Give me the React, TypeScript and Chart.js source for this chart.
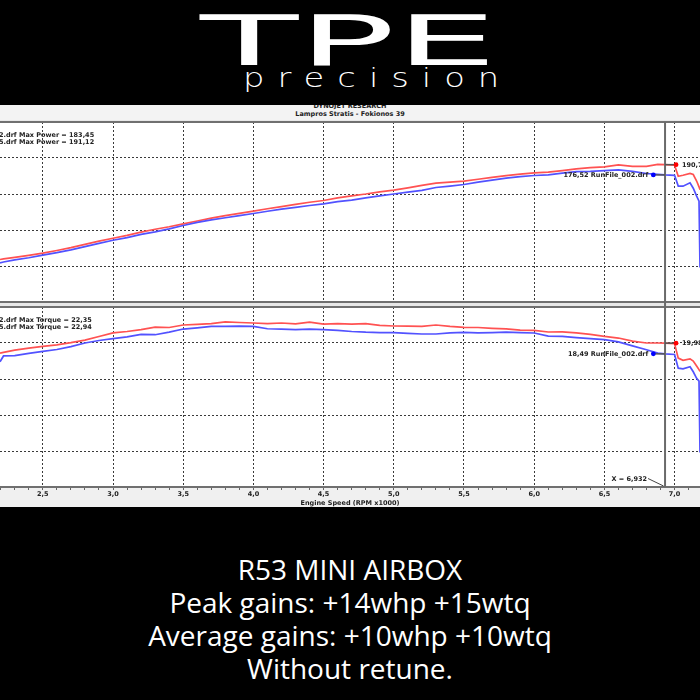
import React, { useEffect, useRef } from 'react';
import { Chart, registerables } from 'chart.js';

Chart.register(...registerables);

// ---------- data (engine speed in RPM x1000) ----------
const rpm = [
  2.195, 2.22, 2.3, 2.4, 2.5, 2.6, 2.7, 2.8, 2.9, 3.0,
  3.1, 3.2, 3.3, 3.4, 3.5, 3.6, 3.7, 3.8, 3.9, 4.0,
  4.1, 4.2, 4.3, 4.4, 4.5, 4.6, 4.7, 4.8, 4.9, 5.0,
  5.1, 5.2, 5.3, 5.4, 5.5, 5.6, 5.7, 5.8, 5.9, 6.0,
  6.1, 6.2, 6.3, 6.4, 6.5, 6.6, 6.7, 6.8, 6.88, 6.932,
  7.0, 7.026, 7.06, 7.11, 7.133, 7.157, 7.174, 7.181,
];

// RunFile_005.drf (red, with airbox)
const powerRun005 = [
  59, 59.8, 62, 64.8, 67.8, 71.5, 75.5, 80, 84.5, 88.5,
  92.5, 97, 101, 104.5, 108.5, 112.5, 116.5, 120, 123, 126.2,
  129.5, 132.5, 135.5, 138.5, 141, 144.5, 147.5, 150, 153, 155.3,
  158.5, 162, 165, 166.5, 168, 170.5, 173, 175.5, 177.5, 179.4,
  180.3, 182.5, 185, 186.5, 187.8, 190.5, 188.5, 188.5, 191.12, 190.78,
  190, 174.7, 176, 178.5, 177, 168, 160, 156,
];

// RunFile_002.drf (blue, stock)
const powerRun002 = [
  54.4, 55.5, 58.5, 61.5, 65, 68.5, 72.5, 77, 81.5, 85.8,
  89.5, 94, 97.5, 101.5, 106.2, 110.5, 114, 117, 120, 122.9,
  126, 129, 131.5, 134, 136.4, 139.5, 141.5, 144.5, 147.5, 150,
  152.5, 155, 159, 161, 163.2, 166.5, 169.2, 172, 174, 175.7,
  176.5, 179, 181, 181.5, 182.5, 183.45, 181.5, 178.5, 177.2, 176.52,
  176, 161, 160.8, 165.5, 158, 147, 140, 48,
];

const torqueRun005 = [
  18.6, 18.7, 19.0, 19.3, 19.53, 19.75, 20.05, 20.4, 20.9, 21.4,
  21.6, 21.85, 22.2, 22.15, 22.5, 22.6, 22.7, 22.94, 22.85, 22.78,
  22.68, 22.78, 22.65, 22.9, 22.63, 22.7, 22.63, 22.68, 22.45, 22.36,
  22.35, 22.3, 22.5, 22.3, 22.17, 22.15, 22.03, 21.95, 21.8, 21.75,
  21.53, 21.55, 21.4, 21.2, 20.92, 20.69, 20.25, 20.0, 20.0, 19.98,
  19.9, 17.9, 17.6, 17.8, 17.5, 16.8, 16.3, 16.05,
];

const torqueRun002 = [
  17.4, 18.2, 18.24, 18.55, 18.84, 19.1, 19.5, 20.0, 20.35, 20.6,
  20.85, 21.2, 21.15, 21.5, 21.94, 22.1, 22.3, 22.3, 22.35, 22.3,
  21.98, 21.94, 21.85, 21.94, 21.85, 21.75, 21.6, 21.5, 21.45, 21.43,
  21.35, 21.25, 21.25, 21.4, 21.47, 21.4, 21.43, 21.5, 21.45, 21.39,
  20.95, 20.92, 20.75, 20.6, 20.46, 20.15, 19.6, 19.07, 18.6, 18.49,
  18.4, 16.5, 16.4, 16.7, 16.0, 15.1, 14.7, 4.8,
];

const majorRpmTicks = [2.5, 3.0, 3.5, 4.0, 4.5, 5.0, 5.5, 6.0, 6.5, 7.0];
const minorRpmTicks = Array.from({ length: 50 }, (_, i) => Math.round(22 + i) / 10);
const powerGridTicks = [50, 100, 150, 200];
const torqueGridTicks = [5, 10, 15, 20];

const xMin = 2.195;
const xMax = 7.181;
const powerMax = 250;
const torqueMax = 25;

const cursorRpm = 6.932;
const cursorPower005 = 190.78;
const cursorPower002 = 176.52;
const cursorTorque005 = 19.98;
const cursorTorque002 = 18.49;

const powerLegend = ['2.drf Max Power = 183,45', '5.drf Max Power = 191,12'];
const torqueLegend = ['2.drf Max Torque = 22,35', '5.drf Max Torque = 22,94'];

// ---------- styles ----------
const RED = '#ff5252';
const BLUE = '#5252ff';
const GRID = '#3a3a3a';
const FRAME = '#707070';
const FONT = '"DejaVu Sans", Verdana, sans-serif';
const SMALL = `bold 6.5px ${FONT}`;

const fmt = (v: number) => v.toFixed(2).replace('.', ',');
const isMajor = (v: number) => Math.abs(v * 2 - Math.round(v * 2)) < 1e-6;

type OverlayCfg = {
  legend: string[];
  red: number;
  blue: number;
  redText: string;
  blueText: string;
  bottomPanel: boolean;
};

function overlay(cfg: OverlayCfg) {
  return {
    id: 'dynoOverlay',
    beforeDraw(chart: any) {
      const { ctx, chartArea: a, width, height } = chart;
      ctx.save();
      ctx.fillStyle = '#e8e8e8';
      if (a.top > 0) ctx.fillRect(0, 0, width, a.top);
      ctx.fillStyle = cfg.bottomPanel ? '#f0f0f0' : '#e8e8e8';
      ctx.fillRect(0, a.bottom, width, height - a.bottom);
      ctx.restore();
    },
    afterDatasetsDraw(chart: any) {
      const { ctx, chartArea: a, width, height, scales } = chart;
      const x = scales.x;
      const y = scales.y;
      const cx = x.getPixelForValue(cursorRpm);
      const line = (x1: number, y1: number, x2: number, y2: number) => {
        ctx.beginPath();
        ctx.moveTo(x1, y1);
        ctx.lineTo(x2, y2);
        ctx.stroke();
      };
      ctx.save();
      // panel frame
      ctx.strokeStyle = FRAME;
      ctx.lineWidth = 2;
      line(0, a.top, width, a.top);
      if (!cfg.bottomPanel) line(0, a.bottom, width, a.bottom);
      // cursor
      ctx.strokeStyle = '#6a6a6a';
      ctx.lineWidth = 2;
      line(cx, cfg.bottomPanel ? 0 : a.top, cx, cfg.bottomPanel ? a.bottom : height);

      const yR = y.getPixelForValue(cfg.red);
      const yB = y.getPixelForValue(cfg.blue);
      const dotR = cx + 11;
      const dotB = cx - 11.7;
      ctx.strokeStyle = '#555';
      ctx.lineWidth = 1.5;
      line(cx, yR, dotR, yR);
      line(dotB, yB, cx, yB);
      ctx.fillStyle = '#ff0000';
      ctx.beginPath();
      ctx.arc(dotR, yR, 2.4, 0, Math.PI * 2);
      ctx.fill();
      ctx.fillStyle = '#0000ff';
      ctx.beginPath();
      ctx.arc(dotB, yB, 2.4, 0, Math.PI * 2);
      ctx.fill();

      ctx.font = SMALL;
      ctx.fillStyle = '#222';
      ctx.textBaseline = 'middle';
      ctx.textAlign = 'left';
      ctx.fillText(cfg.redText, dotR + 6, yR + 0.5);
      ctx.textAlign = 'right';
      ctx.fillText(cfg.blueText, dotB - 5, yB + 0.5);

      // max legend
      ctx.textAlign = 'left';
      cfg.legend.forEach((t, i) => ctx.fillText(t, -1, a.top + 13.3 + i * 7.4));

      if (cfg.bottomPanel) {
        ctx.textAlign = 'right';
        ctx.fillText('X = ' + cursorRpm.toFixed(3).replace('.', ','), cx - 18, a.bottom - 8);
        ctx.strokeStyle = '#444';
        ctx.lineWidth = 1;
        line(cx - 17, a.bottom - 8.5, cx - 1.5, a.bottom - 1);
      }
      ctx.restore();
    },
  };
}

const dashGrid = { color: GRID, lineWidth: 1, drawTicks: false };

function makeDatasets(red: number[], blue: number[]) {
  return [
    {
      label: 'RunFile_002.drf',
      data: rpm.map((r, i) => ({ x: r, y: blue[i] })),
      borderColor: BLUE,
      borderWidth: 1.7,
      pointRadius: 0,
      tension: 0,
    },
    {
      label: 'RunFile_005.drf',
      data: rpm.map((r, i) => ({ x: r, y: red[i] })),
      borderColor: RED,
      borderWidth: 1.7,
      pointRadius: 0,
      tension: 0,
    },
  ];
}

export default function App() {
  const topRef = useRef<HTMLCanvasElement>(null);
  const botRef = useRef<HTMLCanvasElement>(null);

  useEffect(() => {
    const top = new Chart(topRef.current as HTMLCanvasElement, {
      type: 'line',
      data: { datasets: makeDatasets(powerRun005, powerRun002) as any },
      options: {
        animation: false,
        responsive: false,
        devicePixelRatio: 1,
        events: [],
        layout: { padding: { top: 2, bottom: 3, left: 0, right: 0 } },
        plugins: { legend: { display: false }, tooltip: { enabled: false } },
        scales: {
          x: {
            type: 'linear',
            min: xMin,
            max: xMax,
            afterBuildTicks: (s: any) => {
              s.ticks = majorRpmTicks.map((v) => ({ value: v }));
            },
            ticks: { display: false },
            grid: dashGrid,
            border: { display: false, dash: [2, 2] },
          },
          y: {
            min: 0,
            max: powerMax,
            afterBuildTicks: (s: any) => {
              s.ticks = powerGridTicks.map((v) => ({ value: v }));
            },
            ticks: { display: false },
            grid: dashGrid,
            border: { display: false, dash: [2, 2] },
          },
        },
      } as any,
      plugins: [
        overlay({
          legend: powerLegend,
          red: cursorPower005,
          blue: cursorPower002,
          redText: fmt(cursorPower005),
          blueText: fmt(cursorPower002) + ' RunFile_002.drf',
          bottomPanel: false,
        }),
      ],
    });

    const bot = new Chart(botRef.current as HTMLCanvasElement, {
      type: 'line',
      data: { datasets: makeDatasets(torqueRun005, torqueRun002) as any },
      options: {
        animation: false,
        responsive: false,
        devicePixelRatio: 1,
        events: [],
        layout: { padding: { top: 2, bottom: 0, left: 0, right: 0 } },
        plugins: { legend: { display: false }, tooltip: { enabled: false } },
        scales: {
          x: {
            type: 'linear',
            min: xMin,
            max: xMax,
            afterBuildTicks: (s: any) => {
              s.ticks = minorRpmTicks.map((v) => ({ value: v }));
            },
            afterFit: (s: any) => {
              s.height = 20;
            },
            ticks: {
              autoSkip: false,
              maxRotation: 0,
              minRotation: 0,
              padding: 0,
              color: '#222',
              font: { family: FONT, size: 6.5, weight: 'bold' },
              callback: (v: any) => (isMajor(Number(v)) ? Number(v).toFixed(1).replace('.', ',') : ''),
            },
            grid: {
              color: (c: any) => (c.tick && isMajor(c.tick.value) ? GRID : 'rgba(0,0,0,0)'),
              lineWidth: 1,
              drawTicks: true,
              tickLength: 3,
              tickColor: '#666',
              tickWidth: 1,
            },
            border: { display: true, color: FRAME, width: 2, dash: [2, 2] },
            title: {
              display: true,
              text: 'Engine Speed (RPM x1000)',
              color: '#222',
              font: { family: FONT, size: 6.5, weight: 'bold' },
              padding: { top: 0, bottom: 0 },
            },
          },
          y: {
            min: 0,
            max: torqueMax,
            afterBuildTicks: (s: any) => {
              s.ticks = torqueGridTicks.map((v) => ({ value: v }));
            },
            ticks: { display: false },
            grid: dashGrid,
            border: { display: false, dash: [2, 2] },
          },
        },
      } as any,
      plugins: [
        overlay({
          legend: torqueLegend,
          red: cursorTorque005,
          blue: cursorTorque002,
          redText: fmt(cursorTorque005),
          blueText: fmt(cursorTorque002) + ' RunFile_002.drf',
          bottomPanel: true,
        }),
      ],
    });

    return () => {
      top.destroy();
      bot.destroy();
    };
  }, []);

  const caption: React.CSSProperties = {
    position: 'absolute',
    left: 0,
    width: 700,
    textAlign: 'center',
    color: '#fff',
    fontFamily: '"Open Sans", sans-serif',
    fontSize: 28,
    lineHeight: '33px',
    whiteSpace: 'nowrap',
  };
  const tiny: React.CSSProperties = {
    position: 'absolute',
    left: 0,
    width: 700,
    textAlign: 'center',
    font: SMALL,
    lineHeight: '8px',
    color: '#222',
    whiteSpace: 'nowrap',
  };

  return (
    <div style={{ position: 'fixed', left: 0, top: 0, width: 700, height: 700, background: '#000', overflow: 'hidden' }}>
      <div style={{ position: 'absolute', left: 0, top: 105, width: 700, height: 402, background: '#fff' }} />
      <div style={{ position: 'absolute', left: 0, top: 105, width: 700, height: 17, background: '#f3f3f3', overflow: 'hidden' }}>
        <div style={{ ...tiny, top: -3.5 }}>DYNOJET RESEARCH</div>
        <div style={{ ...tiny, top: 4.5 }}>Lampros Stratis - Fokionos 39</div>
      </div>
      <canvas ref={topRef} width={700} height={185} style={{ position: 'absolute', left: 0, top: 120, width: 700, height: 185 }} />
      <canvas ref={botRef} width={700} height={202} style={{ position: 'absolute', left: 0, top: 305, width: 700, height: 202 }} />

      <div
        style={{
          position: 'absolute',
          left: 200,
          top: 6,
          fontFamily: '"DejaVu Sans", sans-serif',
          fontSize: 70,
          lineHeight: '70px',
          color: '#fff',
          transform: 'scaleX(2.3)',
          transformOrigin: 'left top',
          whiteSpace: 'nowrap',
        }}
      >
        TPE
      </div>
      <div
        style={{
          position: 'absolute',
          left: 243,
          top: 64,
          fontFamily: '"DejaVu Sans", sans-serif',
          fontWeight: 200,
          fontSize: 27,
          lineHeight: '27px',
          letterSpacing: '10.4px',
          color: '#fff',
          transform: 'scaleX(1.25)',
          transformOrigin: 'left top',
          whiteSpace: 'nowrap',
        }}
      >
        precision
      </div>

      <div style={{ ...caption, top: 553 }}>R53 MINI AIRBOX</div>
      <div style={{ ...caption, top: 586 }}>Peak gains: +14whp +15wtq</div>
      <div style={{ ...caption, top: 619 }}>Average gains: +10whp +10wtq</div>
      <div style={{ ...caption, top: 652 }}>Without retune.</div>
    </div>
  );
}
